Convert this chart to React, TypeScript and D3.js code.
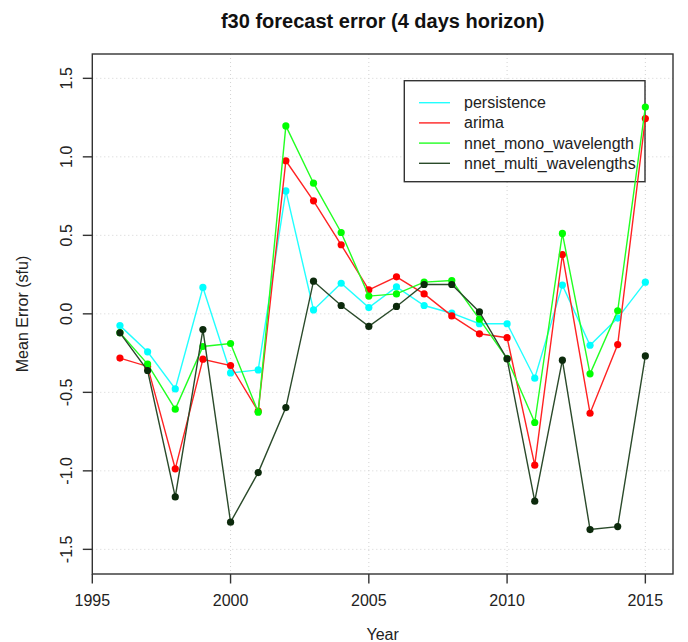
import React from "react";
import * as d3 from "d3";

const years = [1996, 1997, 1998, 1999, 2000, 2001, 2002, 2003, 2004, 2005, 2006, 2007, 2008, 2009, 2010, 2011, 2012, 2013, 2014, 2015];
const persistence = [-0.075, -0.242, -0.478, 0.168, -0.376, -0.357, 0.783, 0.025, 0.195, 0.04, 0.172, 0.053, 0.004, -0.063, -0.063, -0.41, 0.183, -0.2, -0.027, 0.202];
const arima = [-0.282, -0.335, -0.987, -0.289, -0.329, -0.62, 0.975, 0.72, 0.44, 0.153, 0.236, 0.127, -0.013, -0.127, -0.152, -0.964, 0.378, -0.633, -0.196, 1.244];
const nnetMono = [-0.12, -0.32, -0.607, -0.208, -0.189, -0.626, 1.197, 0.832, 0.518, 0.113, 0.127, 0.202, 0.212, -0.034, -0.285, -0.692, 0.512, -0.382, 0.019, 1.317];
const nnetMulti = [-0.121, -0.361, -1.166, -0.1, -1.327, -1.011, -0.597, 0.208, 0.053, -0.08, 0.047, 0.187, 0.187, 0.012, -0.287, -1.193, -0.295, -1.374, -1.355, -0.268];

const seriesNames = ["persistence", "arima", "nnet_mono_wavelength", "nnet_multi_wavelengths"];
const seriesColors = ["#00ffff", "#ff0000", "#00ff00", "#0c2a0c"];
const lineColors = ["#22ffff", "#ff2222", "#22ff22", "#2a4a2a"];
const seriesValues = [persistence, arima, nnetMono, nnetMulti];

const xTicks = [1995, 2000, 2005, 2010, 2015];
const yTicks = [-1.5, -1.0, -0.5, 0.0, 0.5, 1.0, 1.5];

const W = 688;
const H = 642;
const left = 92.3;
const right = 673;
const top = 54;
const bottom = 574;
const font = "'Liberation Sans', Arial, sans-serif";

export default function App() {
  const x = d3.scaleLinear().domain([1995, 2016]).range([left, right]);
  const y = d3.scaleLinear().domain([-1.657, 1.655]).range([bottom, top]);
  const line = d3
    .line<number>()
    .x((_, i) => x(years[i]))
    .y((d) => y(d));

  const legendX = 404.3;
  const legendY = 80.7;
  const legendW = 240.7;
  const legendH = 101;

  return (
    <svg
      width={W}
      height={H}
      style={{ position: "absolute", left: 0, top: 0, background: "#fff" }}
      fontFamily={font}
    >
      <rect x={0} y={0} width={W} height={H} fill="#fff" />
      {/* grid */}
      {xTicks
        .filter((t) => t > 1995)
        .map((t) => (
          <line key={"gx" + t} x1={x(t)} x2={x(t)} y1={top} y2={bottom} stroke="#d3d3d3" strokeWidth={1} strokeDasharray="1,3" />
        ))}
      {yTicks.map((t) => (
        <line key={"gy" + t} x1={left} x2={right} y1={y(t)} y2={y(t)} stroke="#d3d3d3" strokeWidth={1} strokeDasharray="1,3" />
      ))}

      {/* legend (drawn under the series) */}
      <rect x={legendX} y={legendY} width={legendW} height={legendH} fill="#fff" stroke="#333" strokeWidth={1.4} />
      {seriesNames.map((name, i) => {
        const ly = 102.7 + i * 20.2;
        return (
          <g key={"lg" + name}>
            <line x1={419} x2={450} y1={ly} y2={ly} stroke={lineColors[i]} strokeWidth={1.4} />
            <text x={464} y={ly + 5.5} fontSize={16} fill="#222">
              {name}
            </text>
          </g>
        );
      })}

      {/* series */}
      {seriesValues.map((vals, si) => (
        <g key={seriesNames[si]}>
          <path d={line(vals) || ""} fill="none" stroke={lineColors[si]} strokeWidth={1.4} />
          {vals.map((v, i) => (
            <circle key={i} cx={x(years[i])} cy={y(v)} r={3.6} fill={seriesColors[si]} />
          ))}
        </g>
      ))}

      {/* box */}
      <rect x={left} y={top} width={right - left} height={bottom - top} fill="none" stroke="#333" strokeWidth={1.4} />

      {/* x axis */}
      {xTicks.map((t) => (
        <g key={"xt" + t}>
          <line x1={x(t)} x2={x(t)} y1={bottom} y2={bottom + 9.5} stroke="#333" strokeWidth={1.4} />
          <text x={x(t)} y={605.5} textAnchor="middle" fontSize={16} fill="#222">
            {t}
          </text>
        </g>
      ))}
      {/* y axis */}
      {yTicks.map((t) => (
        <g key={"yt" + t}>
          <line x1={left - 9.5} x2={left} y1={y(t)} y2={y(t)} stroke="#333" strokeWidth={1.4} />
          <text
            transform={`translate(${72},${y(t)}) rotate(-90)`}
            textAnchor="middle"
            fontSize={16}
            fill="#222"
          >
            {d3.format(".1f")(t).replace("−", "-")}
          </text>
        </g>
      ))}

      {/* labels */}
      <text x={(left + right) / 2} y={27.5} textAnchor="middle" fontSize={20} fontWeight="bold" fill="#111">
        f30 forecast error (4 days horizon)
      </text>
      <text x={(left + right) / 2} y={640} textAnchor="middle" fontSize={16} fill="#222">
        Year
      </text>
      <text transform={`translate(${28},${314}) rotate(-90)`} textAnchor="middle" fontSize={16} fill="#222">
        Mean Error (sfu)
      </text>
    </svg>
  );
}
